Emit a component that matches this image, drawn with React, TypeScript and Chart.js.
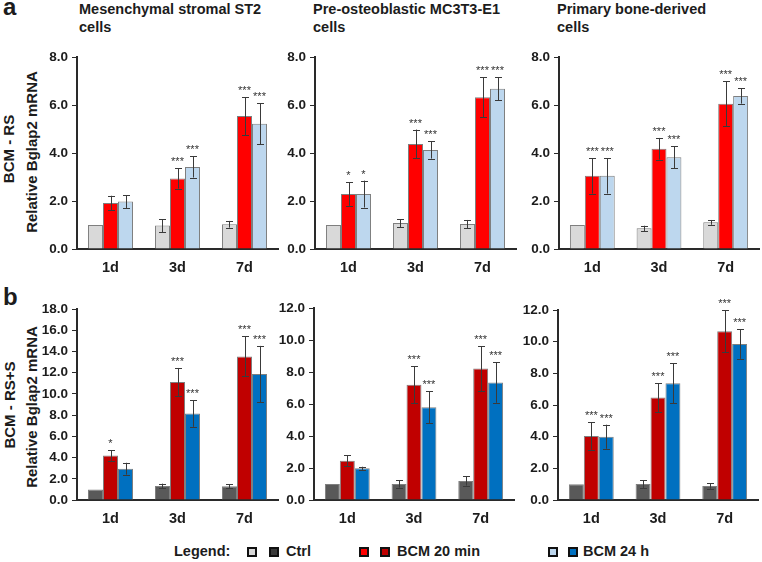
import React, { useEffect, useRef } from 'react';
import { Chart, registerables } from 'chart.js';

Chart.register(...registerables);

const FONT = '"Liberation Sans", Arial, sans-serif';
const TXT = '#1c1c1c';

const DAYS = ['1d', '3d', '7d'];
const Y_TICK_STEP = 2;

// ---- Row a: BCM - RS ----
const A_ST2_CTRL = [1.0, 0.98, 1.03];
const A_ST2_CTRL_ERR = [0, 0.27, 0.14];
const A_ST2_B20 = [1.92, 2.94, 5.54];
const A_ST2_B20_ERR = [0.3, 0.42, 0.79];
const A_ST2_B24 = [1.98, 3.42, 5.22];
const A_ST2_B24_ERR = [0.27, 0.44, 0.86];
const A_ST2_SIG20 = ['', '***', '***'];
const A_ST2_SIG24 = ['', '***', '***'];

const A_MC_CTRL = [1.0, 1.08, 1.04];
const A_MC_CTRL_ERR = [0, 0.17, 0.17];
const A_MC_B20 = [2.29, 4.38, 6.33];
const A_MC_B20_ERR = [0.49, 0.6, 0.83];
const A_MC_B24 = [2.29, 4.13, 6.68];
const A_MC_B24_ERR = [0.56, 0.36, 0.48];
const A_MC_SIG20 = ['*', '***', '***'];
const A_MC_SIG24 = ['*', '***', '***'];

const A_PB_CTRL = [1.0, 0.86, 1.11];
const A_PB_CTRL_ERR = [0, 0.11, 0.1];
const A_PB_B20 = [3.05, 4.18, 6.06];
const A_PB_B20_ERR = [0.74, 0.45, 0.93];
const A_PB_B24 = [3.05, 3.82, 6.38];
const A_PB_B24_ERR = [0.74, 0.46, 0.32];
const A_PB_SIG20 = ['***', '***', '***'];
const A_PB_SIG24 = ['***', '***', '***'];

// ---- Row b: BCM - RS+S ----
const B_ST2_CTRL = [1.0, 1.32, 1.29];
const B_ST2_CTRL_ERR = [0, 0.22, 0.18];
const B_ST2_B20 = [4.2, 11.13, 13.54];
const B_ST2_B20_ERR = [0.5, 1.32, 1.88];
const B_ST2_B24 = [2.95, 8.15, 11.88];
const B_ST2_B24_ERR = [0.56, 1.25, 2.65];
const B_ST2_SIG20 = ['*', '***', '***'];
const B_ST2_SIG24 = ['', '***', '***'];

const B_MC_CTRL = [1.0, 1.0, 1.19];
const B_MC_CTRL_ERR = [0, 0.22, 0.29];
const B_MC_B20 = [2.46, 7.2, 8.22];
const B_MC_B20_ERR = [0.33, 1.15, 1.4];
const B_MC_B24 = [1.98, 5.8, 7.35];
const B_MC_B24_ERR = [0.1, 1.0, 1.27];
const B_MC_SIG20 = ['', '***', '***'];
const B_MC_SIG24 = ['', '***', '***'];

const B_PB_CTRL = [1.0, 1.01, 0.88];
const B_PB_CTRL_ERR = [0, 0.25, 0.17];
const B_PB_B20 = [4.04, 6.48, 10.67];
const B_PB_B20_ERR = [0.86, 0.91, 1.33];
const B_PB_B24 = [4.0, 7.37, 9.85];
const B_PB_B24_ERR = [0.76, 1.26, 0.93];
const B_PB_SIG20 = ['***', '***', '***'];
const B_PB_SIG24 = ['***', '***', '***'];

const COLORS_A = ['#d9d9d9', '#ff0000', '#bdd7ee'];
const COLORS_B = ['#595959', '#c00000', '#0070c0'];

type PanelProps = {
  axisX: number;
  right: number;
  top: number;
  bottom: number;
  max: number;
  values: number[][];
  errors: number[][];
  sigs: string[][];
  colors: string[];
};

function Panel(p: PanelProps) {
  const ref = useRef<HTMLCanvasElement>(null);
  const YW = 50, PT = 12, PR = 4, XH = 34;
  const w = p.right - p.axisX + YW + PR;
  const h = p.bottom - p.top + PT + XH;

  useEffect(() => {
    const errPlugin = {
      id: 'errbars',
      afterDatasetsDraw(chart: any) {
        const ctx = chart.ctx;
        const ys = chart.scales.y;
        ctx.save();
        p.values.forEach((vals, i) => {
          const meta = chart.getDatasetMeta(i);
          vals.forEach((v, j) => {
            const e = p.errors[i][j];
            const x = meta.data[j].x;
            const yt = ys.getPixelForValue(v + e);
            if (e > 0) {
              const yb = ys.getPixelForValue(v - e);
              const xr = Math.round(x) + 0.5;
              ctx.strokeStyle = '#3a3a3a';
              ctx.lineWidth = 1;
              ctx.beginPath();
              ctx.moveTo(xr, yt);
              ctx.lineTo(xr, yb);
              ctx.moveTo(xr - 3.5, Math.round(yt) + 0.5);
              ctx.lineTo(xr + 3.5, Math.round(yt) + 0.5);
              ctx.moveTo(xr - 3.5, Math.round(yb) + 0.5);
              ctx.lineTo(xr + 3.5, Math.round(yb) + 0.5);
              ctx.stroke();
            }
            const s = p.sigs[i] ? p.sigs[i][j] : '';
            if (s) {
              ctx.fillStyle = '#333';
              ctx.font = `11px ${FONT}`;
              ctx.textAlign = 'center';
              ctx.textBaseline = 'alphabetic';
              ctx.fillText(s, x, yt - 3);
            }
          });
        });
        ctx.restore();
      },
    };

    const chart = new Chart(ref.current as HTMLCanvasElement, {
      type: 'bar',
      data: {
        labels: DAYS,
        datasets: p.values.map((vals, i) => ({
          data: vals,
          backgroundColor: p.colors[i],
          borderColor: '#7f7f7f',
          borderWidth: 1,
          categoryPercentage: 0.672,
          barPercentage: 1,
        })),
      },
      options: {
        animation: false,
        responsive: false,
        maintainAspectRatio: false,
        layout: { padding: { top: PT, right: PR, left: 0, bottom: 0 } },
        plugins: { legend: { display: false }, tooltip: { enabled: false } },
        scales: {
          x: {
            grid: { display: false, drawTicks: false },
            border: { display: true, color: '#2a2a2a', width: 2 },
            ticks: { color: TXT, font: { family: FONT, size: 14.5, weight: 'bold' }, padding: 10 },
            afterFit: (s: any) => { s.height = XH; },
          },
          y: {
            min: 0,
            max: p.max,
            ticks: {
              stepSize: Y_TICK_STEP,
              color: TXT,
              font: { family: FONT, size: 13.5, weight: 'bold' },
              padding: 4,
              callback: (v: any) => Number(v).toFixed(1),
            },
            grid: { display: true, drawOnChartArea: false, drawTicks: true, tickLength: 5, color: '#2a2a2a', lineWidth: 1 },
            border: { display: true, color: '#2a2a2a', width: 2 },
            afterFit: (s: any) => { s.width = YW; },
          },
        },
      } as any,
      plugins: [errPlugin],
    });
    return () => chart.destroy();
  }, []);

  return (
    <canvas
      ref={ref}
      width={w}
      height={h}
      style={{ position: 'absolute', left: p.axisX - YW, top: p.top - PT, width: w, height: h }}
    />
  );
}

const txt = (extra: React.CSSProperties): React.CSSProperties => ({
  position: 'absolute',
  fontFamily: FONT,
  fontWeight: 'bold',
  color: TXT,
  whiteSpace: 'nowrap',
  ...extra,
});

function Title({ left, lines }: { left: number; lines: string[] }) {
  return (
    <div style={txt({ left, top: 0, fontSize: 14.5, lineHeight: '18px' })}>
      {lines.map((l, i) => (
        <div key={i}>{l}</div>
      ))}
    </div>
  );
}

function VLabel({ cx, cy, text }: { cx: number; cy: number; text: string }) {
  const W = 240;
  return (
    <div
      style={txt({
        left: cx - W / 2,
        top: cy - 9,
        width: W,
        height: 18,
        lineHeight: '18px',
        fontSize: 15,
        textAlign: 'center',
        transform: 'rotate(-90deg)',
      })}
    >
      {text}
    </div>
  );
}

function Box({ left, color }: { left: number; color: string }) {
  return (
    <div
      style={{
        position: 'absolute',
        left,
        top: 547,
        width: 10,
        height: 10,
        boxSizing: 'border-box',
        border: '2px solid #111',
        background: color,
      }}
    />
  );
}

const legendText = (left: number): React.CSSProperties =>
  txt({ left, top: 542, fontSize: 14.5, lineHeight: '18px' });

export default function App() {
  return (
    <div style={{ position: 'fixed', left: 0, top: 0, width: 762, height: 562, background: '#fff', overflow: 'hidden' }}>
      <div style={txt({ left: 3, top: -5, fontSize: 24, lineHeight: '24px' })}>a</div>
      <div style={txt({ left: 3, top: 285, fontSize: 24, lineHeight: '24px' })}>b</div>

      <Title left={79} lines={['Mesenchymal stromal ST2', 'cells']} />
      <Title left={313} lines={['Pre-osteoblastic MC3T3-E1', 'cells']} />
      <Title left={557} lines={['Primary bone-derived', 'cells']} />

      <VLabel cx={9} cy={149} text="BCM - RS" />
      <VLabel cx={32} cy={152} text="Relative Bglap2 mRNA" />
      <VLabel cx={10} cy={405} text="BCM - RS+S" />
      <VLabel cx={32} cy={407} text="Relative Bglap2 mRNA" />

      <Panel axisX={77} right={278} top={57} bottom={249} max={8}
        values={[A_ST2_CTRL, A_ST2_B20, A_ST2_B24]} errors={[A_ST2_CTRL_ERR, A_ST2_B20_ERR, A_ST2_B24_ERR]}
        sigs={[[], A_ST2_SIG20, A_ST2_SIG24]} colors={COLORS_A} />
      <Panel axisX={315} right={516} top={57} bottom={249} max={8}
        values={[A_MC_CTRL, A_MC_B20, A_MC_B24]} errors={[A_MC_CTRL_ERR, A_MC_B20_ERR, A_MC_B24_ERR]}
        sigs={[[], A_MC_SIG20, A_MC_SIG24]} colors={COLORS_A} />
      <Panel axisX={559} right={759} top={57} bottom={249} max={8}
        values={[A_PB_CTRL, A_PB_B20, A_PB_B24]} errors={[A_PB_CTRL_ERR, A_PB_B20_ERR, A_PB_B24_ERR]}
        sigs={[[], A_PB_SIG20, A_PB_SIG24]} colors={COLORS_A} />

      <Panel axisX={77} right={278} top={309} bottom={500} max={18}
        values={[B_ST2_CTRL, B_ST2_B20, B_ST2_B24]} errors={[B_ST2_CTRL_ERR, B_ST2_B20_ERR, B_ST2_B24_ERR]}
        sigs={[[], B_ST2_SIG20, B_ST2_SIG24]} colors={COLORS_B} />
      <Panel axisX={314} right={514} top={308} bottom={500} max={12}
        values={[B_MC_CTRL, B_MC_B20, B_MC_B24]} errors={[B_MC_CTRL_ERR, B_MC_B20_ERR, B_MC_B24_ERR]}
        sigs={[[], B_MC_SIG20, B_MC_SIG24]} colors={COLORS_B} />
      <Panel axisX={558} right={758} top={310} bottom={500} max={12}
        values={[B_PB_CTRL, B_PB_B20, B_PB_B24]} errors={[B_PB_CTRL_ERR, B_PB_B20_ERR, B_PB_B24_ERR]}
        sigs={[[], B_PB_SIG20, B_PB_SIG24]} colors={COLORS_B} />

      <div style={legendText(174)}>Legend:</div>
      <Box left={247} color={COLORS_A[0]} />
      <Box left={269} color={'#3a3a3a'} />
      <div style={legendText(286)}>Ctrl</div>
      <Box left={359} color={COLORS_A[1]} />
      <Box left={380} color={COLORS_B[1]} />
      <div style={legendText(397)}>BCM 20 min</div>
      <Box left={548} color={COLORS_A[2]} />
      <Box left={568} color={COLORS_B[2]} />
      <div style={legendText(583)}>BCM 24 h</div>
    </div>
  );
}
